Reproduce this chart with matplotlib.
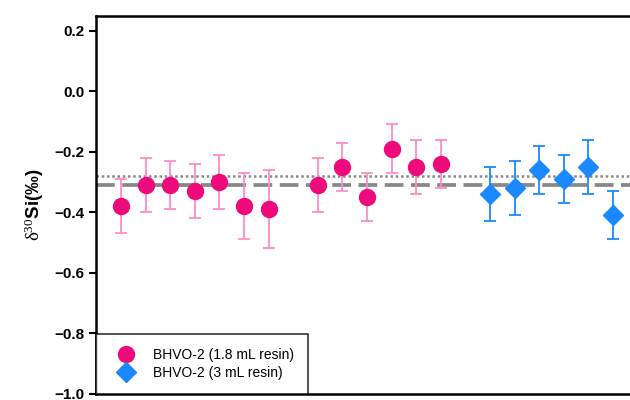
import numpy as np
import matplotlib
matplotlib.use("Agg")
import matplotlib.pyplot as plt
from matplotlib.lines import Line2D

# BHVO-2 delta30Si replicates, two column resin volumes
x_small = [1, 2, 3, 4, 5, 6, 7, 9, 10, 11, 12, 13, 14]
d30_small = [-0.38, -0.31, -0.31, -0.33, -0.30, -0.38, -0.39,
             -0.31, -0.25, -0.35, -0.19, -0.25, -0.24]
err_small = [0.09, 0.09, 0.08, 0.09, 0.09, 0.11, 0.13,
             0.09, 0.08, 0.08, 0.08, 0.09, 0.08]

x_large = [16, 17, 18, 19, 20, 21]
d30_large = [-0.34, -0.32, -0.26, -0.29, -0.25, -0.41]
err_large = [0.09, 0.09, 0.08, 0.08, 0.09, 0.08]

ref_mean = -0.31      # dashed line
ref_dotted = -0.28    # dotted line

yticks = [-1.0, -0.8, -0.6, -0.4, -0.2, 0.0, 0.2]

plt.rcParams['font.family'] = ['Liberation Sans', 'DejaVu Sans']
plt.rcParams['mathtext.fontset'] = 'custom'
plt.rcParams['mathtext.rm'] = 'Liberation Serif'
plt.rcParams['mathtext.it'] = 'Liberation Serif:italic'

pink, pink_err, blue = '#EE0A7B', '#FF8CC6', '#1A88FF'

fig = plt.figure(figsize=(6.3, 4.0), dpi=100)
ax = fig.add_axes([0.153, 0.016, 0.859, 0.945])

ax.axhline(ref_dotted, color='#888888', lw=1.8, ls=(0, (1, 1.1)), zorder=1)
ax.axhline(ref_mean, color='#888888', lw=2.7, ls=(0, (5, 2)), zorder=1)

ax.errorbar(x_small, d30_small, yerr=err_small, fmt='o', ms=11.5,
            color=pink, ecolor=pink_err, elinewidth=1.3, capsize=4,
            capthick=1.3, zorder=3)
ax.errorbar(x_large, d30_large, yerr=err_large, fmt='D', ms=10,
            color=blue, ecolor=blue, elinewidth=1.3, capsize=4,
            capthick=1.3, zorder=3)

ax.set_xlim(0, 22)
ax.set_ylim(-1.0, 0.25)
ax.set_yticks(yticks)
ax.set_yticklabels([f'{v:.1f}'.replace('-', '\u2212') for v in yticks],
                   fontsize=11, fontweight='bold')
ax.set_xticks([])
ax.tick_params(axis='y', direction='out', length=5, width=1.5)
for s in ax.spines.values():
    s.set_linewidth(1.8)

ax.set_ylabel(r'$\mathrm{\delta^{30}}$Si(‰)', fontsize=13.5, fontweight='bold', labelpad=6)

handles = [
    Line2D([], [], ls='none', marker='o', ms=11.5, color=pink),
    Line2D([], [], ls='none', marker='D', ms=10, color=blue),
]
leg = ax.legend(handles, ['BHVO-2 (1.8 mL resin)', 'BHVO-2 (3 mL resin)'],
                loc='lower left', fontsize=10, frameon=True, fancybox=False,
                borderaxespad=0, handletextpad=0.9, borderpad=1.0,
                labelspacing=0.3, handlelength=2.2)
leg.get_frame().set_edgecolor('black')
leg.get_frame().set_linewidth(1.2)

fig.savefig('out.png', dpi=100)
